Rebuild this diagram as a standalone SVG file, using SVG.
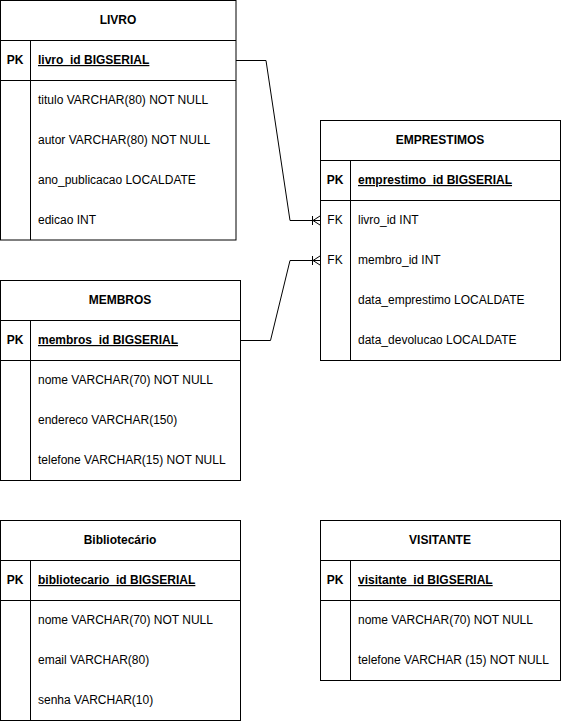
<svg xmlns="http://www.w3.org/2000/svg" width="561" height="721" viewBox="0 0 561 721">
<style>
.box{fill:#fff;stroke:#000;stroke-width:1}
.ln{fill:none;stroke:#000;stroke-width:1}
text{font-family:"Liberation Sans",Arial,sans-serif;font-size:12px;fill:#000}
.t{font-weight:bold;text-anchor:middle}
.pk{font-weight:bold;text-anchor:middle}
.pkf{font-weight:bold;text-decoration:underline}
</style>
<rect width="561" height="721" fill="#fff"/>
<g id="livro">
<rect class="box" x="0.5" y="0.5" width="235.5" height="239.5"/>
<path class="ln" d="M0.5 40.5H236M0.5 80.5H236M30.5 40.5V240"/>
<text class="t" x="118" y="24">LIVRO</text>
<text class="pk" x="15" y="64">PK</text>
<text class="pkf" x="38" y="64">livro_id BIGSERIAL</text>
<text x="38" y="104">titulo VARCHAR(80) NOT NULL</text>
<text x="38" y="144">autor VARCHAR(80) NOT NULL</text>
<text x="38" y="184">ano_publicacao LOCALDATE</text>
<text x="38" y="224">edicao INT</text>
</g>
<g id="emprestimos">
<rect class="box" x="320.5" y="120.5" width="240" height="240"/>
<path class="ln" d="M320.5 160.5H560.5M320.5 200.5H560.5M350.5 160.5V360.5"/>
<text class="t" x="440" y="144">EMPRESTIMOS</text>
<text class="pk" x="335" y="184">PK</text>
<text class="pkf" x="358" y="184">emprestimo_id BIGSERIAL</text>
<text x="335" y="224" text-anchor="middle">FK</text>
<text x="358" y="224">livro_id INT</text>
<text x="335" y="264" text-anchor="middle">FK</text>
<text x="358" y="264">membro_id INT</text>
<text x="358" y="304">data_emprestimo LOCALDATE</text>
<text x="358" y="344">data_devolucao LOCALDATE</text>
</g>
<g id="membros">
<rect class="box" x="0.5" y="280.5" width="240" height="200"/>
<path class="ln" d="M0.5 320.5H240.5M0.5 360.5H240.5M30.5 320.5V480.5"/>
<text class="t" x="120" y="304">MEMBROS</text>
<text class="pk" x="15" y="344">PK</text>
<text class="pkf" x="38" y="344">membros_id BIGSERIAL</text>
<text x="38" y="384">nome VARCHAR(70) NOT NULL</text>
<text x="38" y="424">endereco VARCHAR(150)</text>
<text x="38" y="464">telefone VARCHAR(15) NOT NULL</text>
</g>
<g id="bibliotecario">
<rect class="box" x="0.5" y="520.5" width="240" height="200"/>
<path class="ln" d="M0.5 560.5H240.5M0.5 600.5H240.5M30.5 560.5V720.5"/>
<text class="t" x="120" y="544">Bibliotecário</text>
<text class="pk" x="15" y="584">PK</text>
<text class="pkf" x="38" y="584">bibliotecario_id BIGSERIAL</text>
<text x="38" y="624">nome VARCHAR(70) NOT NULL</text>
<text x="38" y="664">email VARCHAR(80)</text>
<text x="38" y="704">senha VARCHAR(10)</text>
</g>
<g id="visitante">
<rect class="box" x="320.5" y="520.5" width="240" height="160"/>
<path class="ln" d="M320.5 560.5H560.5M320.5 600.5H560.5M350.5 560.5V680.5"/>
<text class="t" x="440" y="544">VISITANTE</text>
<text class="pk" x="335" y="584">PK</text>
<text class="pkf" x="358" y="584">visitante_id BIGSERIAL</text>
<text x="358" y="624">nome VARCHAR(70) NOT NULL</text>
<text x="358" y="664">telefone VARCHAR (15) NOT NULL</text>
</g>
<g id="connectors">
<path class="ln" d="M236 60.5H266L290 220.5H320"/>
<path class="ln" d="M312.5 216V225M313 220.5L320 216M313 220.5L320 225"/>
<path class="ln" d="M240.5 340.5H270.5L290 260.5H320"/>
<path class="ln" d="M312.5 256V265M313 260.5L320 256M313 260.5L320 265"/>
</g>
</svg>
